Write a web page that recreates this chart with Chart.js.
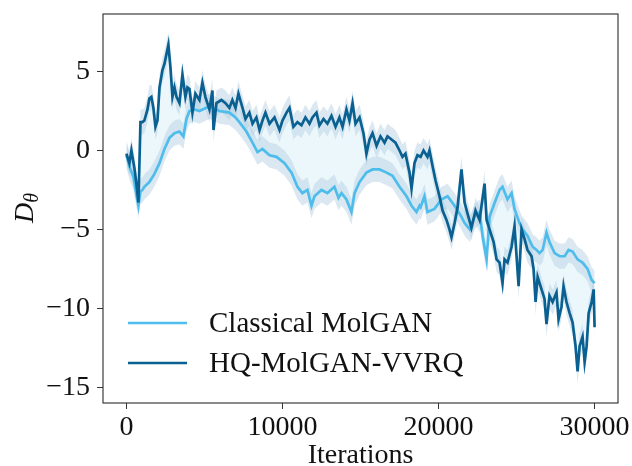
<!DOCTYPE html>
<html>
<head>
<meta charset="utf-8">
<script src="https://cdn.jsdelivr.net/npm/chart.js@4.4.1/dist/chart.umd.min.js"></script>
<style>
  html, body { margin: 0; padding: 0; background: #fff; }
</style>
</head>
<body>
<canvas id="chart" width="632" height="466"></canvas>
<script>
// Values
const classicalIters = [0, 190, 450, 640, 770, 900, 1030, 1150, 1470, 1790, 2120, 2440, 2760, 3080, 3400, 3650, 3850, 4040, 4360, 4680, 5320, 5960, 6600, 6990, 7240, 7690, 8080, 8400, 8720, 9170, 9620, 10130, 10580, 10960, 11280, 11600, 11860, 12050, 12500, 12880, 13330, 13590, 13780, 14100, 14420, 14620, 14940, 15380, 15770, 16220, 16670, 17050, 17500, 17950, 18270, 18590, 18780, 18850, 19100, 19290, 19740, 20190, 20580, 21030, 21470, 21670, 22000, 22310, 22630, 22820, 23080, 23270, 23600, 23910, 24100, 24420, 24680, 24870, 25190, 25380, 25700, 26030, 26280, 26470, 26670, 26920, 27110, 27440, 27760, 28080, 28330, 28590, 28910, 29230, 29550, 29810, 30000];
const classicalValues = [-0.3, -1.0, -1.7, -2.8, -3.5, -2.6, -2.5, -2.3, -2.0, -1.5, -0.8, 0.1, 0.8, 1.1, 1.2, 0.9, 2.0, 2.5, 2.6, 2.5, 2.8, 2.5, 2.4, 2.1, 1.8, 1.2, 0.5, -0.1, 0.1, -0.3, -0.4, -0.8, -1.4, -2.3, -2.7, -2.5, -3.5, -2.9, -2.5, -2.7, -2.3, -3.0, -2.7, -3.1, -3.9, -2.7, -2.0, -1.4, -1.2, -1.2, -1.4, -1.6, -2.3, -2.9, -3.5, -3.9, -3.5, -3.6, -2.9, -3.9, -3.7, -3.1, -2.9, -3.5, -4.2, -4.6, -5.0, -4.2, -3.9, -5.4, -6.9, -4.2, -3.3, -2.5, -2.3, -3.1, -2.7, -3.7, -4.6, -5.0, -5.4, -6.1, -6.3, -6.5, -6.3, -5.2, -5.8, -6.5, -6.7, -6.7, -6.3, -6.4, -6.9, -7.1, -7.5, -8.2, -8.4];

const hqIters = [0, 190, 320, 510, 640, 770, 900, 1030, 1150, 1350, 1470, 1600, 1730, 1860, 1990, 2120, 2310, 2440, 2690, 2820, 2950, 3080, 3210, 3400, 3590, 3780, 3910, 4040, 4230, 4420, 4680, 4870, 5060, 5320, 5510, 5580, 5770, 6090, 6350, 6600, 6790, 6990, 7180, 7440, 7630, 7880, 8080, 8330, 8530, 8720, 8910, 9170, 9490, 9810, 10000, 10260, 10450, 10700, 10960, 11220, 11470, 11730, 11920, 12180, 12370, 12630, 12880, 13140, 13400, 13650, 13850, 14100, 14290, 14490, 14680, 14940, 15190, 15380, 15580, 15770, 16030, 16280, 16540, 16730, 16990, 17240, 17500, 17690, 17880, 18140, 18270, 18460, 18650, 18850, 19040, 19290, 19420, 19620, 19810, 20060, 20260, 20510, 20700, 20830, 21030, 21220, 21470, 21670, 21860, 22110, 22370, 22630, 22950, 23080, 23270, 23530, 23720, 23910, 24100, 24230, 24420, 24680, 24870, 25000, 25130, 25320, 25510, 25700, 25960, 26090, 26220, 26350, 26600, 26790, 26920, 27110, 27310, 27560, 27690, 27880, 28010, 28200, 28400, 28590, 28780, 28910, 29040, 29230, 29360, 29490, 29620, 29810, 29940, 30000];
const hqValues = [-0.2, -0.8, 0.0, -1.1, -2.1, -3.3, 1.8, 1.8, 1.9, 2.6, 3.3, 3.4, 2.7, 1.5, 1.9, 4.0, 5.1, 5.5, 6.7, 5.3, 3.4, 4.0, 3.4, 3.0, 4.8, 3.4, 4.0, 3.9, 2.4, 3.6, 3.2, 4.3, 3.4, 2.6, 3.8, 1.3, 3.0, 3.2, 3.0, 2.7, 3.2, 2.7, 3.6, 2.7, 2.0, 2.4, 1.7, 2.1, 1.3, 1.9, 2.4, 1.7, 2.1, 1.3, 1.9, 2.4, 2.7, 1.5, 1.8, 1.6, 2.1, 1.7, 2.1, 2.4, 1.6, 2.0, 1.7, 2.2, 1.5, 2.1, 1.5, 2.6, 1.9, 3.0, 1.7, 2.1, 1.1, -0.2, 0.7, 1.1, 0.3, 0.9, 0.5, 0.9, 0.7, 0.5, 0.0, -0.4, -0.2, -1.4, -2.4, -0.8, -0.3, -0.4, 0.0, -0.4, 0.0, -1.0, -1.9, -2.9, -3.8, -4.4, -5.0, -5.5, -4.6, -3.6, -1.2, -3.3, -4.0, -4.9, -3.8, -4.4, -2.1, -4.4, -5.0, -5.8, -6.9, -7.1, -8.4, -6.9, -7.1, -6.1, -4.8, -6.7, -8.6, -5.0, -5.6, -6.3, -6.7, -7.5, -9.6, -8.0, -8.8, -9.4, -11.0, -9.2, -9.6, -9.0, -10.7, -9.9, -8.6, -9.6, -10.3, -10.9, -12.4, -14.0, -12.4, -11.8, -13.4, -12.4, -10.3, -9.6, -8.8, -11.2];

// half-width of the shaded band around each curve
const classicalSpread = 0.8;
const hqSpread = 0.8;

const seriesLabels = ['Classical MolGAN', 'HQ-MolGAN-VVRQ'];
const xTicks = [0, 10000, 20000, 30000];
const yTicks = [-15, -10, -5, 0, 5];

const lightBlue = 'rgb(78, 189, 236)';
const darkBlue = 'rgb(10, 96, 145)';
const bandColor = 'rgba(176, 205, 224, 0.45)';
const betweenColor = 'rgba(228, 243, 251, 0.7)';
const serif = '"Liberation Serif", "Times New Roman", serif';

function points(xs, ys, shift) {
    return xs.map((x, i) => ({ x: x, y: ys[i] + shift }));
}

const bandStyle = { borderWidth: 0, borderColor: 'rgba(0,0,0,0)', pointRadius: 0, backgroundColor: bandColor };

const datasets = [
    // fill between the two curves
    { data: points(classicalIters, classicalValues, 0), borderWidth: 0, borderColor: 'rgba(0,0,0,0)',
      pointRadius: 0, fill: { target: 6 }, backgroundColor: betweenColor, order: 10 },
    Object.assign({ data: points(classicalIters, classicalValues, -classicalSpread), fill: false, order: 8 }, bandStyle),
    Object.assign({ data: points(classicalIters, classicalValues, classicalSpread), fill: '-1', order: 8 }, bandStyle),
    Object.assign({ data: points(hqIters, hqValues, -hqSpread), fill: false, order: 6 }, bandStyle),
    Object.assign({ data: points(hqIters, hqValues, hqSpread), fill: '-1', order: 6 }, bandStyle),
    { label: seriesLabels[0], data: points(classicalIters, classicalValues, 0), borderColor: lightBlue,
      borderWidth: 2.7, pointRadius: 0, fill: false, order: 2 },
    { label: seriesLabels[1], data: points(hqIters, hqValues, 0), borderColor: darkBlue,
      borderWidth: 2.7, pointRadius: 0, fill: false, order: 1 }
];

// frame, legend and the y label
const extras = {
    id: 'extras',
    afterDraw(chart) {
        const ctx = chart.ctx;
        const a = chart.chartArea;
        ctx.save();
        ctx.strokeStyle = '#2b2b2b';
        ctx.lineWidth = 1.1;
        ctx.strokeRect(a.left, a.top, a.right - a.left, a.bottom - a.top);

        // legend
        const rows = [[seriesLabels[0], lightBlue, 323], [seriesLabels[1], darkBlue, 363]];
        ctx.font = '29px ' + serif;
        ctx.textBaseline = 'middle';
        ctx.fillStyle = '#111';
        rows.forEach(r => {
            ctx.strokeStyle = r[1];
            ctx.lineWidth = 2.6;
            ctx.beginPath();
            ctx.moveTo(128, r[2]);
            ctx.lineTo(187, r[2]);
            ctx.stroke();
            ctx.fillText(r[0], 209, r[2] + 1);
        });

        // y label D_theta
        ctx.translate(24, 208);
        ctx.rotate(-Math.PI / 2);
        ctx.textBaseline = 'alphabetic';
        ctx.font = 'italic 28px ' + serif;
        const wD = ctx.measureText('D').width;
        ctx.font = 'italic 20px ' + serif;
        const wT = ctx.measureText('\u03B8').width;
        const x0 = -(wD + wT) / 2;
        ctx.font = 'italic 28px ' + serif;
        ctx.fillText('D', x0, 9);
        ctx.font = 'italic 20px ' + serif;
        ctx.fillText('\u03B8', x0 + wD, 14);
        ctx.restore();
    }
};

new Chart(document.getElementById('chart').getContext('2d'), {
    type: 'line',
    data: { datasets: datasets },
    options: {
        responsive: false,
        animation: false,
        layout: { padding: { left: 0, right: 14, top: 14, bottom: 0 } },
        plugins: {
            legend: { display: false },
            tooltip: { enabled: false },
            filler: { drawTime: 'beforeDatasetsDraw' }
        },
        elements: { line: { tension: 0, borderJoinStyle: 'miter' } },
        scales: {
            x: {
                type: 'linear',
                min: -1500,
                max: 31500,
                afterBuildTicks: s => { s.ticks = xTicks.map(v => ({ value: v })); },
                afterFit: s => { s.height = 63; s.paddingLeft = 0; s.paddingRight = 0; },
                grid: { drawOnChartArea: false, drawTicks: true, tickLength: 6, tickColor: '#333' },
                border: { display: false },
                ticks: { color: '#111', font: { family: serif, size: 28 }, padding: 2, maxRotation: 0,
                         callback: v => String(v) },
                title: { display: true, text: 'Iterations', color: '#111',
                         font: { family: serif, size: 28, lineHeight: 1.0 }, padding: { top: 0, bottom: -4 } }
            },
            y: {
                min: -16,
                max: 8.65,
                afterBuildTicks: s => { s.ticks = yTicks.map(v => ({ value: v })); },
                afterFit: s => { s.width = 103; s.paddingTop = 0; s.paddingBottom = 0; },
                grid: { drawOnChartArea: false, drawTicks: true, tickLength: 6, tickColor: '#333' },
                border: { display: false },
                ticks: { color: '#111', font: { family: serif, size: 28 }, padding: 7,
                         callback: v => (v < 0 ? '\u2212' + Math.abs(v) : String(v)) }
            }
        }
    },
    plugins: [extras]
});
</script>
</body>
</html>
